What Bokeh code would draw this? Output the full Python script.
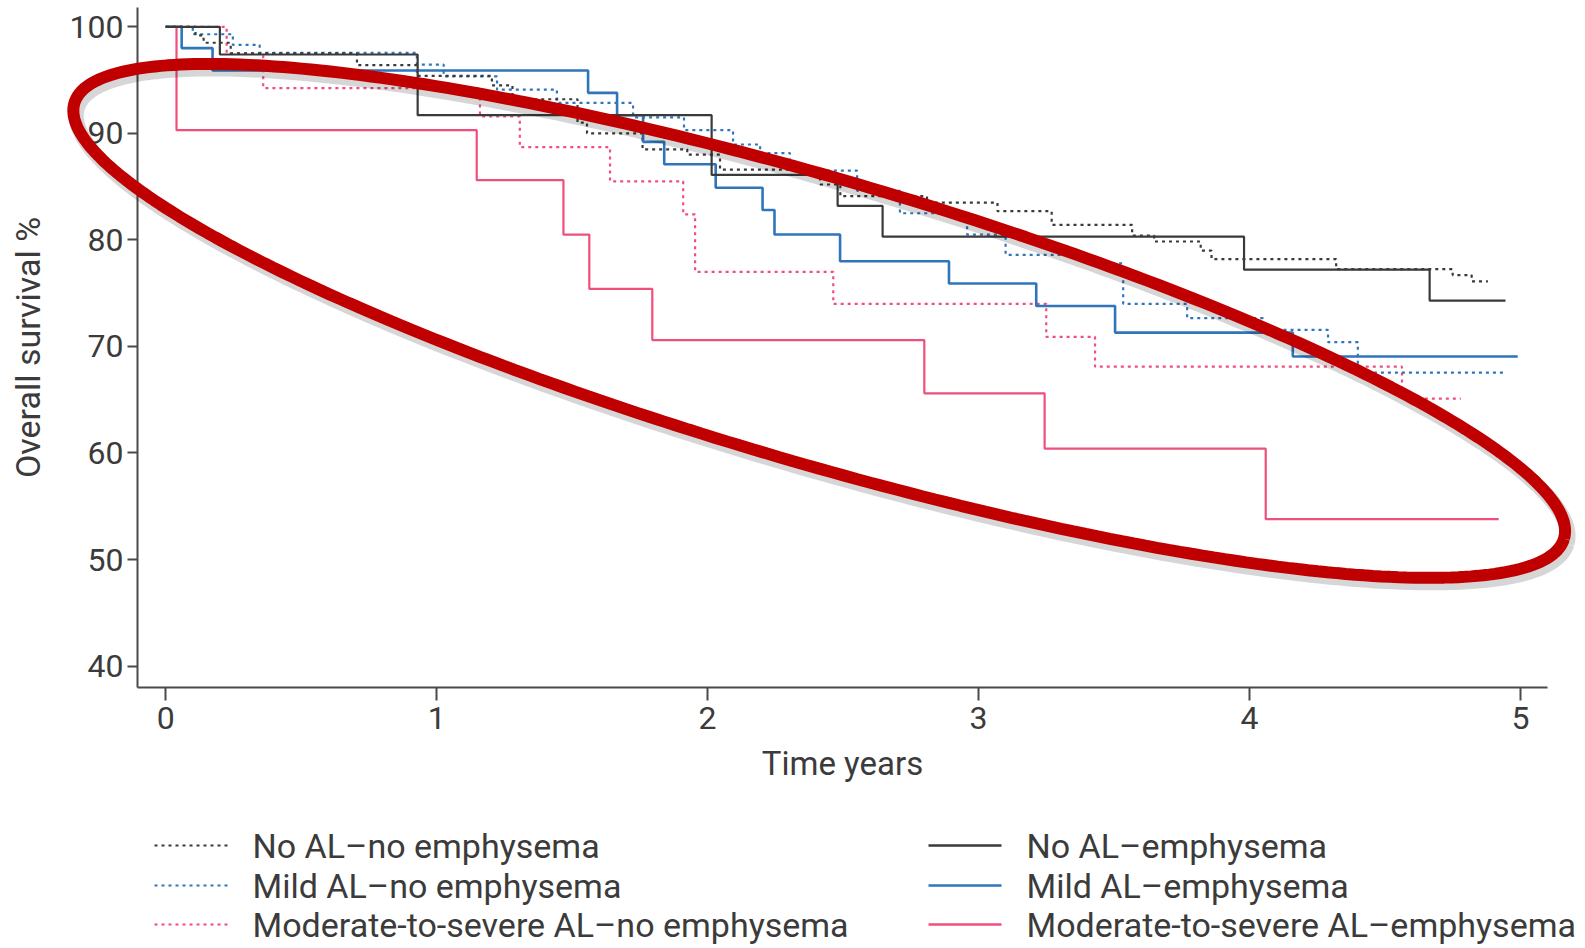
import numpy as np
from bokeh.plotting import figure
from bokeh.models import Range1d, FixedTicker
from bokeh.core.properties import value
from bokeh.embed import file_html
from bokeh.resources import INLINE

# ---------------- data ----------------
x_ticks = [0, 1, 2, 3, 4, 5]
y_ticks = [40, 50, 60, 70, 80, 90, 100]

# No AL - no emphysema (black dotted)
t_noal_noemph = [0, 0.11, 0.14, 0.24, 0.706, 0.927, 1.204, 1.28, 1.52, 1.555, 1.76, 1.925,
                 2.046, 2.415, 2.49, 2.81, 3.07, 3.27, 3.567, 3.648, 3.82, 3.86, 4.32,
                 4.75, 4.82, 4.88]
s_noal_noemph = [100, 99.2, 98.5, 97.5, 96.4, 95.4, 94.5, 93.2, 91.0, 90.0, 88.5, 88.0,
                 86.6, 85.2, 84.1, 83.5, 82.7, 81.4, 80.4, 79.85, 79.0, 78.2, 77.25,
                 76.7, 76.1, 76.1]

# Mild AL - no emphysema (blue dotted)
t_mild_noemph = [0, 0.10, 0.248, 0.347, 0.927, 1.026, 1.223, 1.444, 1.725, 1.913, 2.094,
                 2.194, 2.304, 2.552, 2.71, 2.958, 3.10, 3.41, 3.534, 3.77, 4.05, 4.29,
                 4.40, 4.94]
s_mild_noemph = [100, 99.3, 98.3, 97.55, 96.45, 95.35, 94.1, 92.85, 91.5, 90.3, 88.95,
                 88.15, 86.5, 84.6, 82.5, 80.5, 78.6, 77.8, 74.0, 72.65, 71.55, 70.4,
                 67.55, 67.55]

# Moderate-to-severe AL - no emphysema (pink dotted)
t_mod_noemph = [0, 0.225, 0.36, 1.16, 1.307, 1.64, 1.91, 1.954, 2.464, 3.25, 3.43, 4.563, 4.78]
s_mod_noemph = [100, 97.5, 94.25, 91.6, 88.7, 85.5, 82.4, 77.0, 74.0, 70.9, 68.1, 65.1, 65.1]

# No AL - emphysema (black solid)
t_noal_emph = [0, 0.20, 0.93, 2.015, 2.48, 2.646, 3.98, 4.665, 4.945]
s_noal_emph = [100, 97.4, 91.7, 86.1, 83.2, 80.3, 77.2, 74.3, 74.3]

# Mild AL - emphysema (blue solid)
t_mild_emph = [0, 0.059, 0.173, 1.559, 1.666, 1.762, 1.84, 2.03, 2.203, 2.247, 2.489,
               2.891, 3.213, 3.504, 4.16, 4.99]
s_mild_emph = [100, 98.0, 95.9, 93.8, 91.7, 89.2, 87.1, 84.9, 82.8, 80.5, 78.0,
               75.9, 73.8, 71.3, 69.05, 69.05]

# Moderate-to-severe AL - emphysema (pink solid)
t_mod_emph = [0, 0.04, 1.148, 1.468, 1.5635, 1.796, 2.80, 3.244, 4.06, 4.92]
s_mod_emph = [100, 90.3, 85.6, 80.5, 75.4, 70.6, 65.6, 60.4, 53.8, 53.8]

labels_left = ["No AL\u2013no emphysema", "Mild AL\u2013no emphysema",
               "Moderate-to-severe AL\u2013no emphysema"]
labels_right = ["No AL\u2013emphysema", "Mild AL\u2013emphysema",
                "Moderate-to-severe AL\u2013emphysema"]

# ---------------- styling ----------------
BLACK = "#3a3a3a"
BLUE = "#2f75bb"
PINK = "#f04f7c"
TEXT = "#3b3b3b"
FONT = "Roboto"
DOT = "3 4"

X0, X1 = -0.104, 5.10
Y0, Y1 = 37.99, 101.81
W, H = 1585, 948
ML, MR, MT, MB = 137, 38, 7, 261

p = figure(width=W, height=H, output_backend="svg", toolbar_location=None,
           x_range=Range1d(X0, X1), y_range=Range1d(Y0, Y1),
           min_border_left=ML, min_border_right=MR, min_border_top=MT, min_border_bottom=MB)
p.outline_line_color = None
p.xgrid.visible = False
p.ygrid.visible = False
p.background_fill_color = "white"
p.border_fill_color = "white"

p.xaxis.ticker = FixedTicker(ticks=x_ticks)
p.yaxis.ticker = FixedTicker(ticks=y_ticks)
for ax in (p.xaxis, p.yaxis):
    ax.axis_line_color = "#4a4a4a"
    ax.axis_line_width = 2
    ax.major_tick_line_color = "#4a4a4a"
    ax.major_tick_line_width = 2
    ax.major_tick_in = 0
    ax.minor_tick_line_color = None
    ax.major_label_text_font = FONT
    ax.major_label_text_font_size = "32px"
    ax.major_label_text_color = TEXT
    ax.axis_label_text_font = FONT
    ax.axis_label_text_color = TEXT
    ax.axis_label_text_font_style = "normal"
p.xaxis.axis_label_text_font_size = "33px"
p.yaxis.axis_label_text_font_size = "34px"
p.xaxis.major_tick_out = 13
p.yaxis.major_tick_out = 10
p.xaxis.major_label_standoff = 6
p.yaxis.major_label_standoff = 4
p.xaxis.axis_label = "Time years"
p.yaxis.axis_label = "Overall survival %"
p.xaxis.axis_label_standoff = 12
p.yaxis.axis_label_standoff = 19

LW = 2.2
r_pd = p.step(t_mod_noemph, s_mod_noemph, mode="after", line_color=PINK, line_width=LW, line_dash=DOT)
r_bd = p.step(t_mild_noemph, s_mild_noemph, mode="after", line_color=BLUE, line_width=LW, line_dash=DOT)
r_kd = p.step(t_noal_noemph, s_noal_noemph, mode="after", line_color=BLACK, line_width=LW, line_dash=DOT)
r_ps = p.step(t_mod_emph, s_mod_emph, mode="after", line_color=PINK, line_width=LW)
r_bs = p.step(t_mild_emph, s_mild_emph, mode="after", line_color=BLUE, line_width=2.6)
r_ks = p.step(t_noal_emph, s_noal_emph, mode="after", line_color=BLACK, line_width=LW)

# ---------------- legend (below the axis; overlay level so it is not clipped) ----------------
px_x = (W - ML - MR) / (X1 - X0)
px_y = (H - MT - MB) / (Y1 - Y0)

def to_dx(sx):
    return X0 + (sx - ML) / px_x

def to_dy(sy):
    return Y1 - (sy - MT) / px_y

LEG_ROWS = [845, 885, 924]          # screen y of legend rows
LEG_COLS = [154, 928]               # screen x where the legend swatch starts
SWATCH, GAP = 73, 25
leg_cols = [
    (labels_left, [BLACK, BLUE, PINK], DOT, LW),
    (labels_right, [BLACK, BLUE, PINK], None, 2.6),
]
for cx, (labs, cols, dash, lw) in zip(LEG_COLS, leg_cols):
    ys = [to_dy(r) for r in LEG_ROWS]
    kw = dict(line_dash=dash) if dash else {}
    p.segment(x0=[to_dx(cx)] * 3, x1=[to_dx(cx + SWATCH)] * 3, y0=ys, y1=ys,
              line_color=cols, line_width=lw, level="overlay", **kw)
    p.text(x=[to_dx(cx + SWATCH + GAP)] * 3, y=ys, text=labs, text_align="left",
           text_baseline="middle", text_font=value(FONT), text_font_size="34px",
           text_color=TEXT, level="overlay")

# ---------------- red ellipse highlight (annotation) ----------------
ELL_CX, ELL_CY = 2.412, 72.4       # centre, data units
ELL_A, ELL_B = 776, 142            # semi axes, pixels
ELL_ROT = np.deg2rad(16.3)         # clockwise tilt on screen
tt = np.linspace(0, 2 * np.pi, 361)
dx = ELL_A * np.cos(tt) * np.cos(ELL_ROT) - ELL_B * np.sin(tt) * np.sin(ELL_ROT)
dy = ELL_A * np.cos(tt) * np.sin(ELL_ROT) + ELL_B * np.sin(tt) * np.cos(ELL_ROT)

p.line(list(ELL_CX + (dx + 3) / px_x), list(ELL_CY - (dy + 5) / px_y),
       line_color="black", line_alpha=0.16, line_width=15, level="overlay")
p.line(list(ELL_CX + dx / px_x), list(ELL_CY - dy / px_y),
       line_color="#c00000", line_width=12, level="overlay")

open("out.html", "w").write(file_html(p, INLINE))
